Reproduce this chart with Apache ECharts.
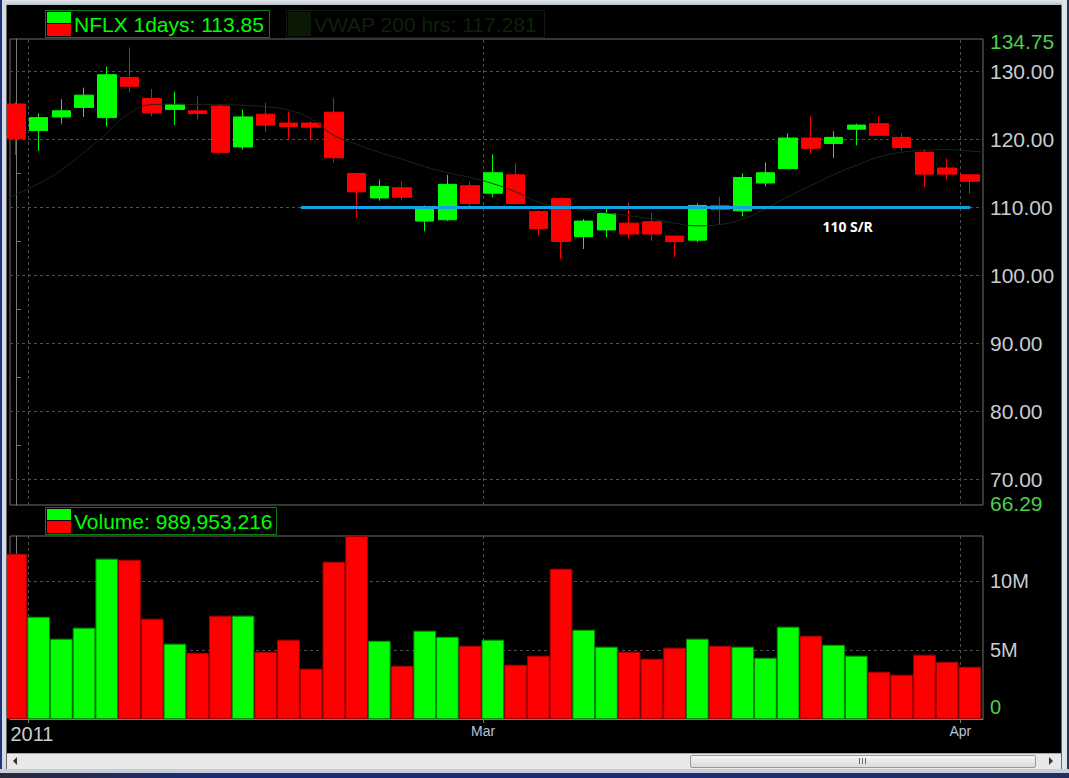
<!DOCTYPE html>
<html><head><meta charset="utf-8">
<script src="https://cdn.jsdelivr.net/npm/echarts@6/dist/echarts.min.js"></script>
<style>
html,body{margin:0;padding:0;background:#000;overflow:hidden;width:1069px;height:778px}
#chart{position:absolute;left:0;top:0;width:1069px;height:778px}
.f{position:absolute;pointer-events:none}
</style></head><body>
<div id="chart"></div>
<div class="f" style="left:0;top:0;width:1069px;height:5px;background:linear-gradient(#e6eaee,#b7c0ca)"></div>
<div class="f" style="left:0;top:0;width:2px;height:778px;background:#22337a"></div>
<div class="f" style="left:2px;top:0;width:4px;height:778px;background:#d3dae3"></div>
<div class="f" style="left:6px;top:5px;width:1px;height:768px;background:#6a6a6a"></div>
<div class="f" style="left:1061px;top:5px;width:1px;height:768px;background:#6a6a6a"></div>
<div class="f" style="left:1062px;top:0;width:5px;height:778px;background:#dde4ec"></div>
<div class="f" style="left:1067px;top:0;width:2px;height:778px;background:#2a3550"></div>
<div class="f" style="left:7px;top:753px;width:1054px;height:15px;background:#e8e8e8;border-top:1px solid #a8a8a8"></div>
<div class="f" style="left:13px;top:757px;width:0;height:0;border-top:4px solid transparent;border-bottom:4px solid transparent;border-right:4px solid #333"></div>
<div class="f" style="left:1049px;top:757px;width:0;height:0;border-top:4px solid transparent;border-bottom:4px solid transparent;border-left:4px solid #333"></div>
<div class="f" style="left:690px;top:755px;width:344px;height:11px;background:linear-gradient(#f7f7f7,#d9d9d9);border:1px solid #999;border-radius:2px"></div>
<div class="f" style="left:859px;top:758px;width:1px;height:6px;background:#666"></div>
<div class="f" style="left:862px;top:758px;width:1px;height:6px;background:#666"></div>
<div class="f" style="left:865px;top:758px;width:1px;height:6px;background:#666"></div>
<div class="f" style="left:0;top:769px;width:1069px;height:4px;background:#c6ced8"></div>
<div class="f" style="left:0;top:773px;width:1069px;height:5px;background:linear-gradient(90deg,#2a2a3a,#1d2a7a 20%,#1d2a7a 60%,#203060)"></div>
<script>
// ---- data ----
const candleOpen  = [125.2,121.3,123.3,124.7,123.2,129.1,126.0,124.4,124.2,124.9,118.9,123.7,122.4,122.4,124.0,115.0,111.4,112.9,108.0,108.2,113.2,112.1,114.8,109.4,111.3,105.7,106.7,107.7,107.9,105.8,105.2,110.3,109.5,113.6,115.7,120.2,119.4,121.5,122.3,120.3,118.1,115.8,114.8];
const candleClose = [120.1,123.2,124.2,126.5,129.5,127.8,123.9,125.1,123.8,118.1,123.3,122.1,121.9,121.8,117.3,112.3,113.1,111.5,109.9,113.4,110.6,115.1,110.6,106.9,105.0,108.0,109.1,106.1,106.1,105.0,110.3,109.7,114.4,115.1,120.2,118.7,120.3,122.1,120.6,118.8,114.9,114.9,113.85];
const candleLow   = [117.7,118.3,122.3,123.3,121.9,126.9,123.4,122.1,122.9,118.0,118.5,121.1,120.0,120.0,116.6,108.5,111.0,111.1,106.5,108.0,110.0,111.5,110.6,105.9,102.4,103.9,105.6,105.4,105.1,102.7,104.9,107.6,108.7,113.1,115.7,117.9,117.3,119.1,120.6,118.3,113.0,114.1,112.0];
const candleHigh  = [125.5,123.8,125.9,127.6,130.7,133.5,127.4,127.0,126.3,125.1,124.4,125.4,124.1,122.7,126.1,115.0,114.1,113.8,110.3,114.8,113.8,117.8,116.5,109.6,111.3,108.3,110.2,110.7,109.2,105.8,110.6,111.6,115.0,116.6,120.9,123.4,121.2,122.3,123.4,120.9,118.5,117.2,114.8];
const volumeM     = [11.98,7.41,5.82,6.62,11.62,11.54,7.27,5.46,4.80,7.49,7.49,4.88,5.75,3.65,11.40,13.26,5.67,3.86,6.40,5.96,5.31,5.75,3.93,4.59,10.89,6.47,5.24,4.88,4.37,5.17,5.82,5.31,5.24,4.44,6.69,6.04,5.38,4.59,3.43,3.21,4.66,4.15,3.79];
// VWAP samples, first value belongs to bar index -1
const vwap = [110.3,111.9,113.5,115.5,118.1,120.9,123.8,125.1,125.2,125.1,125.1,125.0,124.8,124.3,123.0,120.6,119.3,118.1,117.1,116.0,115.1,114.4,113.5,112.3,110.8,110.0,109.7,109.2,108.8,108.3,107.7,107.3,107.5,108.3,109.8,111.6,113.2,114.8,116.2,117.4,118.1,118.4,118.5,118.3,118.0];
const priceTickLabels = [66.29,70,80,90,100,110,120,130,134.75];
const priceGridLines  = [70,80,90,100,110,120,130];
const priceMinorTicks = [75,85,95,105,115,125];
const volumeTickLabels = [0,5,10];
const volumeGridLines = [5,10];
const monthLabels = ['2011','Mar','Apr'];
const monthAt = [0.55,20.57,41.58];
const xRange = [-0.26,42.58];
const srLevel = 110, srFrom = 12.55, srTo = 42.02, srText = '110 S/R', srTextAt = [36.62,107.2];
const legendPrice = 'NFLX 1days: ' + candleClose[candleClose.length-1].toFixed(2);
const legendVwap = 'VWAP 200 hrs: 117.281';
const legendVolume = 'Volume: 989,953,216';

const GREEN = '#00ff00', RED = '#ff0000';
const FONT = '"Liberation Sans", Arial, sans-serif';
const PMIN = priceTickLabels[0], PMAX = priceTickLabels[priceTickLabels.length-1];

const chart = echarts.init(document.getElementById('chart'), null, {renderer:'svg'});
const gridLineStyle = {color:'#4e4e4e', type:[3,3], width:1};

const option = {
  backgroundColor:'#000',
  animation:false,
  textStyle:{fontFamily:FONT},
  grid:[
    {left:10, right:86, top:39, height:466, show:true, borderColor:'#6e6e6e', borderWidth:1, outerBoundsMode:'none', containLabel:false},
    {left:10, right:86, top:536, height:183, show:true, borderColor:'#6e6e6e', borderWidth:1, outerBoundsMode:'none', containLabel:false}
  ],
  xAxis:[
    {type:'value', gridIndex:0, min:xRange[0], max:xRange[1], axisLine:{show:false}, axisTick:{show:false}, axisLabel:{show:false}, splitLine:{show:false}},
    {type:'value', gridIndex:1, min:xRange[0], max:xRange[1],
      axisLine:{show:true, lineStyle:{color:'#7a7a7a'}},
      axisTick:{show:true, customValues:monthAt, length:4, lineStyle:{color:'#7a7a7a'}},
      splitLine:{show:false},
      axisLabel:{show:true, customValues:monthAt, margin:5,
        formatter:function(v){
          let k=0, d=1e9;
          monthAt.forEach((m,i)=>{ if(Math.abs(m-v)<d){d=Math.abs(m-v);k=i;} });
          return k===0 ? '{y|'+monthLabels[k]+'}' : '{m|'+monthLabels[k]+'}';
        },
        rich:{
          y:{color:'#c8ccd2', fontSize:20, fontFamily:FONT, padding:[0,0,0,7]},
          m:{color:'#b4c4dc', fontSize:14, fontFamily:FONT}
        }
      }
    }
  ],
  yAxis:[
    {type:'value', gridIndex:0, position:'right', min:PMIN, max:PMAX,
      axisLine:{show:true, lineStyle:{color:'#7a7a7a'}},
      axisTick:{show:true, customValues:priceMinorTicks, length:5, inside:false, lineStyle:{color:'#7a7a7a'}},
      splitLine:{show:false},
      axisLabel:{show:true, customValues:priceTickLabels, margin:7,
        formatter:function(v){
          const s=v.toFixed(2);
          if (Math.abs(v-PMAX)<1e-6) return '{hi|'+s+'}';
          if (Math.abs(v-PMIN)<1e-6) return '{lo|'+s+'}';
          return '{n|'+s+'}';
        },
        rich:{
          n:{color:'#c8ccd2', fontSize:21, fontFamily:FONT},
          hi:{color:'#4ccf4c', fontSize:21, fontFamily:FONT, padding:[5,0,0,0]},
          lo:{color:'#4ccf4c', fontSize:21, fontFamily:FONT, padding:[0,0,4,0]}
        }
      }
    },
    {type:'value', gridIndex:1, position:'right', min:0, max:Math.max(...volumeM), interval:5,
      axisLine:{show:true, lineStyle:{color:'#7a7a7a'}},
      axisTick:{show:false},
      splitLine:{show:false},
      axisLabel:{show:true, customValues:volumeTickLabels, margin:7,
        formatter:function(v){ return v===0 ? '{z|0}' : '{w|'+v+'M}'; },
        rich:{
          w:{color:'#c8ccd2', fontSize:20, fontFamily:FONT},
          z:{color:'#4ccf4c', fontSize:20, fontFamily:FONT, padding:[0,0,24,0]}
        }
      }
    }
  ],
  graphic:[
    {type:'rect', shape:{x:45.5,y:10.5,width:224,height:27}, style:{fill:'none', stroke:'#0b7d0b', lineWidth:1}},
    {type:'rect', shape:{x:47,y:12,width:24,height:11}, style:{fill:GREEN}},
    {type:'rect', shape:{x:47,y:24,width:24,height:12}, style:{fill:RED}},
    {type:'text', x:74, y:24, style:{text:legendPrice, fill:GREEN, font:'21px '+FONT, verticalAlign:'middle', align:'left'}},
    {type:'rect', shape:{x:286.5,y:10.5,width:258,height:27}, style:{fill:'none', stroke:'#0e1a0e', lineWidth:1}},
    {type:'rect', shape:{x:288,y:12,width:23,height:24}, style:{fill:'#0c1a05'}},
    {type:'text', x:314, y:24, style:{text:legendVwap, fill:'#0f200c', font:'21px '+FONT, verticalAlign:'middle', align:'left'}},
    {type:'rect', shape:{x:45.5,y:507.5,width:231,height:27}, style:{fill:'none', stroke:'#0b7d0b', lineWidth:1}},
    {type:'rect', shape:{x:47,y:509,width:24,height:11}, style:{fill:GREEN}},
    {type:'rect', shape:{x:47,y:521,width:24,height:12}, style:{fill:RED}},
    {type:'text', x:74, y:521, style:{text:legendVolume, fill:GREEN, font:'21px '+FONT, verticalAlign:'middle', align:'left'}}
  ],
  series:[
    {type:'candlestick', name:'NFLX', xAxisIndex:0, yAxisIndex:0, z:3, barWidth:19, clip:true,
      data: candleOpen.map((o,i)=>[i, o, candleClose[i], candleLow[i], candleHigh[i]]),
      itemStyle:{color:GREEN, color0:RED, borderColor:GREEN, borderColor0:RED, borderWidth:1},
      markLine:{z:1, silent:true, symbol:['none','none'], label:{show:false}, lineStyle:gridLineStyle, animation:false,
        data: priceGridLines.map(v=>({yAxis:v})).concat(monthAt.map(v=>({xAxis:v})))}
    },
    {type:'line', name:'VWAP', xAxisIndex:0, yAxisIndex:0, z:4, smooth:true, showSymbol:false, symbol:'none', clip:true,
      data: vwap.map((v,k)=>[k-1, v]),
      lineStyle:{color:'#172a15', width:1},
      markLine:{z:6, silent:true, symbol:['none','none'], label:{show:false}, animation:false,
        lineStyle:{color:'#12a0e2', width:3, type:'solid'},
        data:[[{coord:[srFrom, srLevel]},{coord:[srTo, srLevel]}]]},
      markPoint:{z:6, silent:true, symbol:'circle', symbolSize:0, animation:false,
        data:[{coord:srTextAt, value:srText}],
        label:{show:true, position:'inside', formatter:srText, color:'#ffffff', fontWeight:'bold', fontSize:14, fontFamily:'"Open Sans", "DejaVu Sans", sans-serif'}}
    },
    {type:'bar', name:'Volume', xAxisIndex:1, yAxisIndex:1, z:3, barWidth:22.7, barGap:'-100%', clip:true,
      data: volumeM.map((v,i)=>{
        const up = candleClose[i] >= candleOpen[i];
        return {value:[i, v], itemStyle:{color: up?GREEN:RED, borderColor: up?'#008a00':'#a00000', borderWidth:1}};
      }),
      markLine:{z:1, silent:true, symbol:['none','none'], label:{show:false}, lineStyle:gridLineStyle, animation:false,
        data: volumeGridLines.map(v=>({yAxis:v})).concat(monthAt.map(v=>({xAxis:v})))}
    }
  ]
};
chart.setOption(option);
</script>
</body></html>
